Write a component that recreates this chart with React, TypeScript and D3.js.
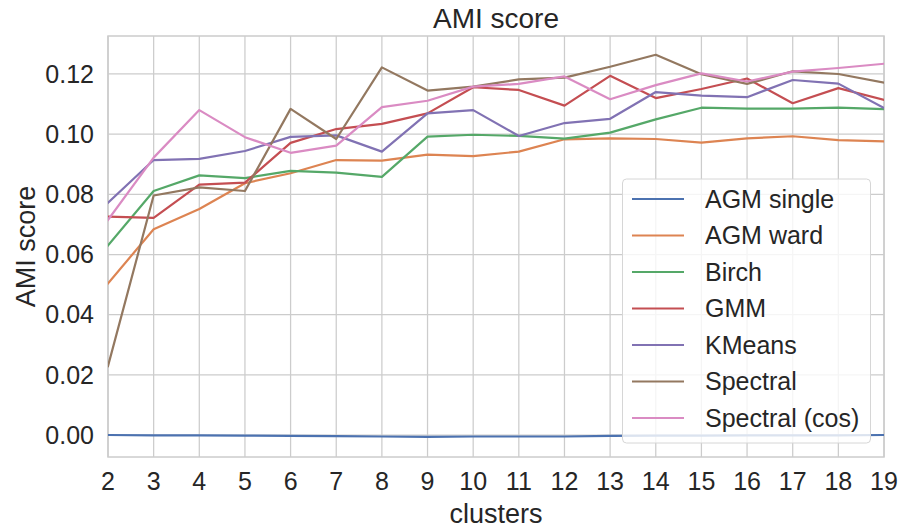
import React from "react";
import * as d3 from "d3";

const clusters = [2, 3, 4, 5, 6, 7, 8, 9, 10, 11, 12, 13, 14, 15, 16, 17, 18, 19];
const seriesNames = ["AGM single", "AGM ward", "Birch", "GMM", "KMeans", "Spectral", "Spectral (cos)"];
const colors = ["#4C72B0", "#DD8452", "#55A868", "#C44E52", "#8172B3", "#937860", "#DA8BC3"];

const agmSingle = [0.0, -0.0001, -0.0001, -0.0002, -0.0003, -0.0004, -0.0005, -0.0006, -0.0005, -0.0005, -0.0005, -0.0003, -0.0002, -0.0002, -0.0001, -0.0001, -0.0001, 0.0];
const agmWard = [0.0504, 0.0684, 0.0751, 0.0837, 0.087, 0.0914, 0.0912, 0.0932, 0.0927, 0.0942, 0.0983, 0.0986, 0.0984, 0.0972, 0.0986, 0.0993, 0.098, 0.0976];
const birch = [0.063, 0.0811, 0.0863, 0.0854, 0.0878, 0.0872, 0.0858, 0.0992, 0.0998, 0.0994, 0.0985, 0.1005, 0.1049, 0.1088, 0.1085, 0.1085, 0.1088, 0.1083];
const gmm = [0.0726, 0.0722, 0.0832, 0.0839, 0.0971, 0.1017, 0.1034, 0.1069, 0.1156, 0.1147, 0.1095, 0.1194, 0.112, 0.115, 0.1185, 0.1103, 0.1153, 0.1114];
const kmeans = [0.0772, 0.0914, 0.0918, 0.0944, 0.0991, 0.0996, 0.0942, 0.1069, 0.108, 0.0994, 0.1037, 0.1051, 0.114, 0.1128, 0.1123, 0.118, 0.1168, 0.1087];
const spectral = [0.0229, 0.0796, 0.0823, 0.0811, 0.1084, 0.0984, 0.1222, 0.1145, 0.1158, 0.1182, 0.1188, 0.1224, 0.1264, 0.1199, 0.1167, 0.1209, 0.12, 0.1171];
const spectralCos = [0.0715, 0.0922, 0.108, 0.099, 0.0938, 0.0962, 0.109, 0.1111, 0.1158, 0.1167, 0.1192, 0.1116, 0.1163, 0.1202, 0.1175, 0.1208, 0.122, 0.1234];

const seriesValues = [agmSingle, agmWard, birch, gmm, kmeans, spectral, spectralCos];
const yTicks = [0.0, 0.02, 0.04, 0.06, 0.08, 0.1, 0.12];

const W = 899;
const H = 530;
const left = 108, right = 884, top = 36, bottom = 457;
const FONT = "'Liberation Sans', Arial, sans-serif";
const TEXT = "#262626";
const GRID = "#cccccc";

export default function App() {
  const x = d3.scaleLinear().domain([2, 19]).range([left, right]);
  const y = d3.scaleLinear().domain([-0.00731, 0.13263]).range([bottom, top]);
  const line = d3
    .line<number>()
    .x((_, i) => x(clusters[i]))
    .y((d) => y(d));

  const legX = 622.5, legY = 179, legW = 248, legH = 264, legStep = 36.5;

  return (
    <svg width={W} height={H} style={{ position: "absolute", left: 0, top: 0, background: "#fff" }} fontFamily={FONT}>
      <rect x={0} y={0} width={W} height={H} fill="#fff" />
      {clusters.map((c) => (
        <line key={"gx" + c} x1={x(c)} x2={x(c)} y1={top} y2={bottom} stroke={GRID} strokeWidth={1.25} />
      ))}
      {yTicks.map((t) => (
        <line key={"gy" + t} x1={left} x2={right} y1={y(t)} y2={y(t)} stroke={GRID} strokeWidth={1.25} />
      ))}
      <rect x={left} y={top} width={right - left} height={bottom - top} fill="none" stroke={GRID} strokeWidth={1.5} />
      <g clipPath="url(#clip)">
        <clipPath id="clip">
          <rect x={left} y={top} width={right - left} height={bottom - top} />
        </clipPath>
        {seriesValues.map((vals, i) => (
          <path key={seriesNames[i]} d={line(vals) || ""} fill="none" stroke={colors[i]} strokeWidth={2.2} strokeLinejoin="round" strokeLinecap="square" />
        ))}
      </g>
      {clusters.map((c) => (
        <text key={"tx" + c} x={x(c)} y={490} textAnchor="middle" fontSize={25} fill={TEXT}>
          {c}
        </text>
      ))}
      {yTicks.map((t) => (
        <text key={"ty" + t} x={94} y={y(t)} dy="0.35em" textAnchor="end" fontSize={25} fill={TEXT}>
          {d3.format(".2f")(t)}
        </text>
      ))}
      <text x={(left + right) / 2} y={27.5} textAnchor="middle" fontSize={28} fill={TEXT}>
        AMI score
      </text>
      <text x={(left + right) / 2} y={523} textAnchor="middle" fontSize={27} fill={TEXT}>
        clusters
      </text>
      <text transform={`translate(35,${(top + bottom) / 2}) rotate(-90)`} textAnchor="middle" fontSize={27} fill={TEXT}>
        AMI score
      </text>
      <g>
        <rect x={legX} y={legY} width={legW} height={legH} rx={4} fill="#fff" fillOpacity={0.8} stroke="#d6d6d6" strokeWidth={1} />
        {seriesNames.map((n, i) => {
          const yy = legY + 20 + i * legStep;
          return (
            <g key={"leg" + n}>
              <line x1={632} x2={684} y1={yy} y2={yy} stroke={colors[i]} strokeWidth={2.2} />
              <text x={705} y={yy} dy="0.35em" fontSize={25} fill={TEXT}>
                {n}
              </text>
            </g>
          );
        })}
      </g>
    </svg>
  );
}
